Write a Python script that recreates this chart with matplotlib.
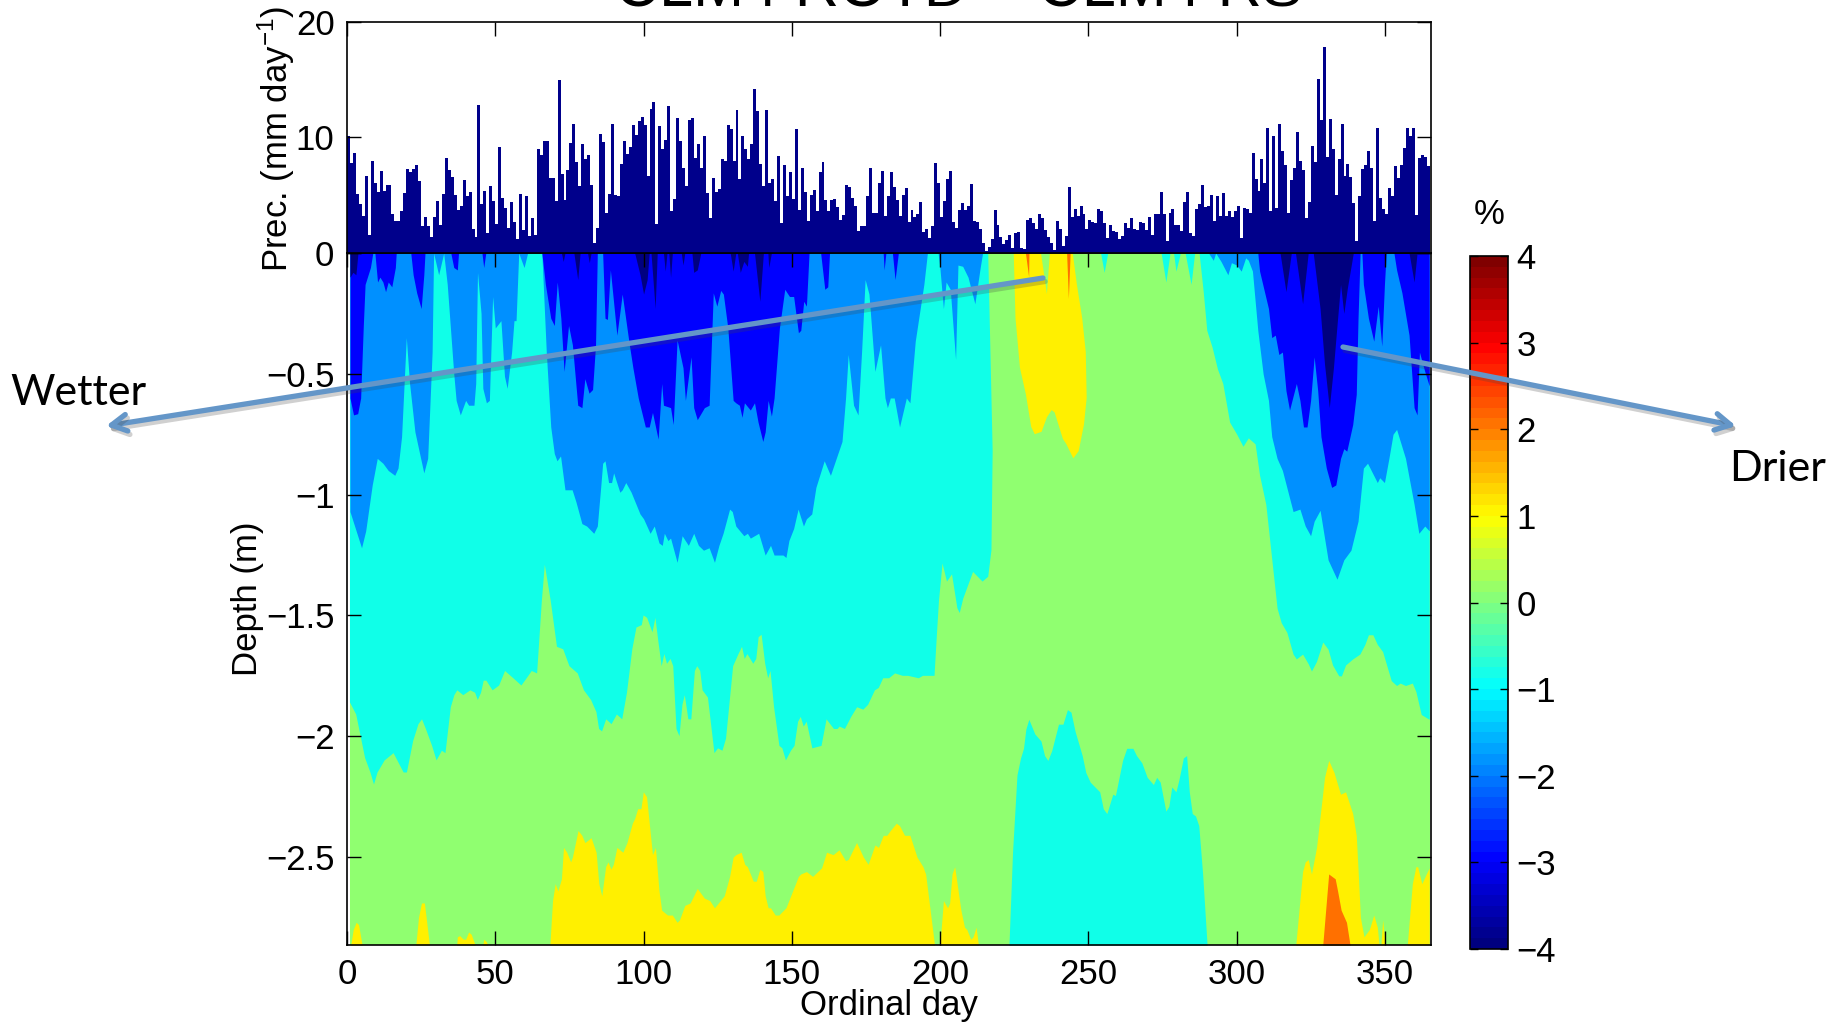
import numpy as np
import matplotlib
matplotlib.use("Agg")
import matplotlib.pyplot as plt
from matplotlib.colors import LinearSegmentedColormap, Normalize
from matplotlib.cm import ScalarMappable
from matplotlib.patches import FancyArrowPatch
import matplotlib.patheffects as pe

plt.rcParams['font.family'] = ['Liberation Sans', 'DejaVu Sans']
plt.rcParams['mathtext.fontset'] = 'custom'
plt.rcParams['mathtext.rm'] = 'Liberation Sans'
plt.rcParams['mathtext.default'] = 'regular'

precip = [
10.1,7.8,8.7,5.1,4.2,3.2,6.7,1.6,8.0,6.1,5.3,7.1,5.4,5.9,5.9,3.4,2.75,2.8,3.6,5.2,
7.3,7.0,7.3,7.65,6.2,2.3,3.1,2.3,1.4,3.1,4.5,2.4,5.1,8.2,7.2,6.6,5.0,3.7,4.1,6.3,
4.9,5.3,2.1,1.4,12.8,4.2,5.4,1.7,5.8,4.5,2.5,9.2,4.8,3.9,2.2,4.4,2.7,1.2,5.1,2.0,
4.9,1.5,3.0,1.6,9.0,8.5,9.7,9.7,6.5,6.5,4.5,15.0,6.8,4.6,7.2,9.5,11.2,7.9,5.8,9.4,
8.1,8.5,5.9,0.9,2.2,10.3,9.6,3.5,5.1,11.2,5.0,4.95,7.7,9.7,8.6,9.2,11.1,10.2,11.4,11.8,
11.1,6.7,12.5,13.1,2.5,11.0,9.0,9.8,12.7,3.6,4.7,11.7,9.7,7.4,5.8,11.5,11.7,8.2,9.4,7.4,
10.1,5.2,3.0,6.5,5.3,5.5,8.1,8.0,11.1,10.7,8.0,12.4,6.4,10.1,9.0,8.1,9.4,14.2,12.3,7.7,
5.8,12.4,6.1,6.4,4.5,8.4,2.6,7.6,4.9,7.0,4.7,10.7,3.7,7.4,5.3,2.8,5.0,5.45,3.6,7.0,
7.9,4.6,3.6,4.6,4.7,4.0,2.9,3.3,5.9,5.7,4.8,4.1,1.9,2.3,2.3,4.9,7.4,3.45,3.5,6.1,
7.1,3.2,4.9,7.0,5.7,4.6,3.2,5.0,5.6,2.7,3.7,3.1,3.4,4.4,1.8,2.05,1.3,2.3,7.8,6.1,
3.1,4.5,6.4,7.1,2.7,2.2,3.7,4.3,3.7,4.1,6.0,2.8,2.7,2.1,0.9,0.15,0.5,1.2,3.7,2.4,
1.4,0.75,1.1,1.6,0.4,1.7,1.8,0.4,0.35,2.9,3.0,2.6,2.1,3.4,3.0,2.0,1.4,0.85,0.25,2.8,
2.05,0.6,1.5,5.7,3.1,3.8,3.2,4.1,3.4,2.1,2.9,2.7,2.6,3.8,3.6,2.6,1.3,2.4,1.9,1.8,
1.2,1.5,2.6,2.2,3.0,2.1,2.0,2.7,2.6,2.0,3.1,1.6,3.4,3.4,5.3,3.4,1.0,3.5,3.8,2.4,
2.4,1.9,4.4,5.3,1.7,1.5,3.8,4.2,5.9,4.0,4.1,5.0,2.75,4.9,3.2,5.2,3.2,3.6,3.1,3.6,
4.1,1.3,3.9,3.8,3.5,8.7,6.4,5.4,8.1,6.1,10.8,3.6,10.1,3.9,11.2,8.8,7.6,3.5,6.3,7.4,
10.5,8.0,7.2,3.0,4.4,9.3,7.9,15.1,11.5,17.8,8.3,11.6,9.0,5.0,8.1,11.2,6.7,7.7,6.6,4.3,
1.0,4.9,7.3,7.6,8.8,7.4,2.8,10.8,4.8,3.8,3.4,5.6,4.9,7.5,6.5,7.6,9.1,10.8,10.1,10.8,
3.3,8.2,8.5,8.3,7.5]

max_depth = 2.864
first_day, last_day = 1, 365

# Lower edge of the -1..0 band (cyan), left part
cyan_left_days = [1,1,3.1,6.1,7.9,9.1,10.3,12.7,15.7,19.1,20.2,22.3,24.1,25.3,26.6,28.7,30.2,32,33.2,35,36.2,37.2,39.2,41.6,43.2,44.1,45.2,46.1,47,49.1,51.3,53.3,56.1,58.8,60,62.3,64.1,65.7,66.7,68.7,70.8,72.9,75,77.8,79.9,82.3,84.1,85,86,87.4,89.2,91,92.8,94.4,96.2,97.6,99.4,100,101.2,103,104,104.9,106.1,107,107.9,109.1,110,111.1,112.1,113.1,113.9,115.1,116.1,117.3,118.1,119.1,119.9,121.7,123.9,125.1,126.6,127.8,129,130.2,132,133.2,134.1,135,137,138,138.8,139.8,141,142,142.8,144,145.8,146.8,148,149.7,150.9,152.1,153,154,155,156.9,160,161.7,164.2,165.4,166.1,167.9,170,172,174.1,175.7,178,179.3,180.8,182.8,184.8,187.4,189.2,192.8,194.2,198.1,198.9,199.6,200.8,202.3,204,205.8,206.6,207.8,211.1,214.3,216.2,217.3,217.7,216.2]
cyan_left_depth = [0,1.86,1.91,2.09,2.15,2.20,2.15,2.10,2.07,2.15,2.15,2.02,1.95,1.93,1.97,2.04,2.10,2.06,2.07,1.88,1.83,1.81,1.83,1.81,1.82,1.85,1.82,1.77,1.77,1.81,1.79,1.73,1.76,1.79,1.77,1.73,1.74,1.44,1.29,1.44,1.63,1.64,1.71,1.74,1.81,1.85,1.90,1.97,1.98,1.93,1.95,1.91,1.93,1.82,1.64,1.55,1.54,1.50,1.51,1.57,1.51,1.60,1.71,1.66,1.70,1.68,1.71,1.97,2.0,1.87,1.83,1.93,1.93,1.73,1.71,1.73,1.81,1.84,2.07,2.05,2.06,2.01,1.86,1.71,1.66,1.63,1.68,1.66,1.70,1.68,1.59,1.58,1.70,1.76,1.73,1.88,2.04,2.05,2.10,2.06,2.04,1.94,1.92,1.96,1.94,2.05,2.04,1.93,1.97,1.97,1.96,1.97,1.92,1.88,1.89,1.87,1.81,1.80,1.76,1.76,1.74,1.75,1.75,1.76,1.75,1.75,1.58,1.44,1.285,1.36,1.33,1.47,1.49,1.43,1.32,1.36,1.34,1.23,0.82,0]

# Lower edge of the cyan band, right part
cyan_right_days = [254.1,255.3,256.5,274.5,276.1,277.5,278.7,279.5,281,282.6,284.6,285.8,287.3,288.7,289.9,291.7,293.5,295.3,297.6,300,302.1,303.9,306.2,307.7,309.8,313.6,315,316.9,319,320.1,322.2,324.1,325.2,326.9,329,330.8,332.3,334.4,335.3,336.7,339.1,341.5,343.2,344.4,345.9,347.4,349.2,352.1,353.9,355.1,356.9,359.2,360.4,362.2,364.9]
cyan_right_depth = [0,.08,0,0,.12,0,0,.075,0,0,.13,0,0,.16,.32,.39,.48,.54,.70,.75,.80,.765,.79,.92,1.04,1.47,1.53,1.57,1.66,1.68,1.66,1.70,1.73,1.69,1.61,1.64,1.705,1.75,1.75,1.705,1.68,1.66,1.62,1.58,1.58,1.62,1.65,1.77,1.79,1.78,1.79,1.78,1.815,1.91,1.93]

# Upper edge of the deep cyan pocket
cyan_deep_days = [223.2,224.4,225.9,227.1,228.1,228.9,229.9,231.9,234,235.2,236.3,237.6,239.9,241.4,242.9,244.1,245.5,247.9,249.1,250.6,253.8,255,256.2,258.2,259.1,261.5,262.9,265,266.2,268,269.8,271.9,273,274.2,276.1,277.1,278.1,279.5,280.5,282,283.1,284,285,286.1,287.2,288.5,290]
cyan_deep_depth = [2.864,2.48,2.16,2.09,2.05,1.97,1.93,1.99,2.02,2.08,2.10,2.06,1.95,1.95,1.89,1.90,1.98,2.08,2.15,2.19,2.23,2.30,2.32,2.24,2.245,2.10,2.05,2.05,2.08,2.11,2.17,2.20,2.17,2.19,2.31,2.29,2.21,2.23,2.18,2.09,2.08,2.23,2.32,2.33,2.37,2.57,2.864]

# Lower edge of the -2..-1 band (azure)
azure_days = [1,4.9,6.3,8.5,10.2,12.1,13.9,16.1,17.2,18.4,20,21.1,22.9,25.9,27.2,28.7,29.2,30.9,32.6,33.8,36,36.8,38.2,40,41,42.8,43.4,44,45.2,45.8,47,48,49.1,50,51.9,53.1,54,55.5,56.3,57,57.9,59.7,60.9,65.7,67.2,68.7,69.9,70.8,72,73.5,75.9,77.2,79.2,80.8,83.2,84.4,85.6,86.2,87,88.2,89.2,89.9,92,92.8,94,95.8,98.8,100,102.2,103.6,105.2,106.3,107,108.2,109.1,111.3,113,115.1,116.9,118.5,120.2,122.1,123.9,125.4,126.8,129,129.9,131.1,133.8,135,136,138.8,141,142.8,144,147,148,149,150.6,152.1,153.9,154.9,156.7,158.1,160.9,163,166.9,168.1,169,170.8,172.3,173.5,174.7,176,178,179.9,181.4,182.2,183.2,184.5,186.3,188.6,189.8,191.6,194.5,195.7,199.3,199.9,201.1,202,203.4,205.2,206,207.6,209.4,211.7,213.5,214.3,
              289.3,290.5,292.1,292.9,294.7,297,298.2,300,301.5,303,303.9,305.3,307.1,308.9,310.7,311.8,313.6,315.4,319,321.3,323.1,324.9,326.1,328.1,330.8,333.8,336.1,338.5,340.9,342.7,344.1,347.4,348.2,349.8,351.3,352.7,353.9,356.9,359.8,361.4,363.4,364.9]
azure_depth = [1.07,1.22,1.15,.96,.85,.87,.90,.92,.89,.76,.35,.54,.74,.91,.85,.41,0,.09,0,.13,.50,.61,.67,.61,.63,.63,.54,.08,.25,.56,.62,.61,.18,.31,.28,.51,.56,.41,.28,.28,0,.06,0,0,.41,.72,.83,.86,.84,.98,.98,1.03,1.12,1.13,1.16,1.13,.96,.87,.86,.95,.95,.91,.99,.98,.95,.99,1.08,1.10,1.16,1.13,1.20,1.21,1.16,1.19,1.18,1.28,1.17,1.21,1.16,1.21,1.23,1.22,1.28,1.21,1.16,1.06,1.07,1.13,1.17,1.16,1.18,1.16,1.25,1.21,1.25,1.25,1.26,1.19,1.14,1.06,1.13,1.10,1.08,.97,.86,.92,.78,.60,.42,.63,.67,.41,.11,.17,.49,.38,.60,.64,.60,.60,.72,.60,.62,.365,.13,0,0,.06,.23,.12,.15,.44,.05,.055,.10,.21,.06,0,
               0,0,.03,0,.035,.09,.04,.05,.075,.02,.03,.075,.32,.50,.61,.76,.85,.90,1.07,1.06,1.13,1.17,1.11,1.065,1.27,1.35,1.27,1.23,1.11,.89,.87,.95,.93,.95,.85,.75,.73,.85,1.04,1.16,1.13,1.15]

# Lower edge of the -3..-2 band (blue)
blue_days = [1,2.2,3.6,4.6,5.5,6.1,7.9,8.7,9.4,10.3,11.1,12.1,13,13.9,15.1,16.3,16.6,21.5,22.3,23.5,25,25.9,26.3,35,36,37.2,37.6,45.5,46.1,46.8,65.7,66.9,68.7,69.9,70.9,72.1,73.2,74.7,76,77.8,79.2,80.2,81.6,82.8,83.8,84.4,86.2,87,87.8,88.8,91,92.8,95.2,96.4,98.2,100.6,101.9,103,104.9,106.1,106.7,109.1,110,111.3,113.3,114.1,116,116.9,118.1,120.5,122.1,123.5,124.7,126,126.9,128.4,130.2,131.1,132.3,133.2,134,136,137.4,138.6,140.2,141,142,143.1,144,145.8,147.6,149.2,150.6,152.2,153,154,154.9,155.8,159.7,161.1,162.1,162.7,180.8,181.1,181.7,183.9,184.8,185.9,
             307.1,307.7,310.7,311.8,313,314.2,315.4,316.6,317.8,320.1,321.3,322.5,323.7,324.9,326.1,327.3,328.4,330.2,332,333.4,335,336.1,337.1,339.1,340.3,340.9,341.6,342.2,342.7,344.4,346.2,347.7,348.9,349.8,350.4,353,353.9,355.7,358.1,359.8,360.8,361.6,363.4,364.9]
blue_depth = [.60,.67,.665,.60,.30,.13,.06,0,0,.12,.10,.12,.16,.12,.14,.06,0,0,.09,.165,.23,.09,0,0,.06,.07,0,0,.06,0,0,.13,.27,.30,.12,.27,.49,.30,.38,.63,.64,.52,.58,.565,.38,0,0,.27,.275,.07,.34,.17,.38,.475,.60,.72,.72,.66,.77,.54,.63,.64,.71,.36,.475,.61,.43,.64,.69,.64,.63,.165,.22,.155,.17,.31,.61,.62,.63,.68,.62,.65,.62,.70,.78,.74,.61,.675,.60,.31,.15,.18,.18,.33,.32,.20,.22,0,0,.15,.14,0,0,.07,0,0,.11,0,
              0,.075,.23,.35,.34,.42,.41,.57,.65,.54,.61,.72,.72,.61,.43,.57,.76,.89,.97,.96,.85,.81,.82,.71,.585,.27,0,0,.13,.27,.365,.22,.385,.13,0,0,.07,.165,.34,.64,.67,.41,.49,.55]

# Lower edge of the -4..-3 band (navy)
navy_days = [1,2,3,3.7,72.3,72.9,73.5,76.5,77.8,78.6,81.1,81.7,82.3,97,98.8,100,101.2,101.9,102.5,103.9,104.6,106.7,107.3,107.9,108.5,109.1,109.7,112.7,113.3,113.9,116.3,116.9,118.1,119.3,129.2,130.2,131.1,131.6,132.6,133.8,135,135.4,137.4,139.2,140.4,141.9,142.2,143.1,
             314.6,316.6,318.4,319.8,322.2,324.1,325.8,328.1,329.6,331.2,332.6,333.8,335,336.1,337.3,339.3,358.1,359.8,360.8]
navy_depth = [.10,.08,.09,0,0,.035,0,0,.11,0,0,.04,0,0,.09,.17,.11,0,0,.23,0,0,.075,0,0,.10,0,0,.05,0,0,.08,.07,0,0,.075,0,0,.08,.035,.055,0,0,.20,0,0,.06,0,
              0,.16,0,0,.21,0,0,.23,.46,.64,.475,.30,.13,.25,.145,0,0,.12,0]

# Upper edge of the 1..2 band near the bottom (yellow)
yellow_days = [1.25,2.1,3.1,3.9,5.1,23.2,24.1,25.1,26.1,27.8,37,37.2,38,39.2,40,41,41.9,43.2,45.8,46.1,47,47.4,68.4,69.3,70.2,71.1,72.3,73,74.1,75.4,76,77.9,79.2,80.2,82.3,84,84.9,85.9,87.2,88,89,89.8,91,93,94.4,96.2,97,98,99.1,99.9,101,103,104,105.2,106.1,108.1,109.7,111.3,112.1,113.9,115.7,118.1,120.5,122.3,123.9,127.2,129,130.2,131.1,132.9,134.1,135,137,138,139.2,140.2,141,142,142.8,144.4,145.6,148,152.2,153,154.9,157,160,161.7,163.9,165.9,168.1,169,171.8,174.1,175.7,178,179.2,180.8,182,183.2,185.2,186.3,188,189.8,192.2,194.2,195.1,198.1,199.9,201.1,202.5,203.2,204,204.9,207,208.2,209,210.3,211.1,212.1,212.9,
               319.9,322.2,323.1,324.1,325.2,326.9,328.4,329.6,331,332.8,335,336.7,339.1,340.3,340.9,341.7,342.9,344.7,346.2,347.4,348,348.6,349.2,350.1,357.5,359.2,360.4,361,362.4,363.9,364.9]
yellow_depth = [2.864,2.80,2.77,2.78,2.864,2.864,2.75,2.69,2.69,2.864,2.864,2.83,2.825,2.84,2.84,2.81,2.82,2.864,2.864,2.84,2.85,2.864,2.864,2.68,2.61,2.64,2.59,2.46,2.48,2.52,2.50,2.39,2.41,2.44,2.42,2.48,2.61,2.66,2.54,2.52,2.55,2.53,2.46,2.48,2.44,2.36,2.34,2.30,2.30,2.23,2.25,2.49,2.46,2.64,2.72,2.74,2.74,2.77,2.76,2.70,2.69,2.63,2.67,2.68,2.71,2.66,2.58,2.50,2.49,2.48,2.53,2.54,2.60,2.60,2.55,2.56,2.66,2.71,2.71,2.74,2.74,2.71,2.58,2.57,2.56,2.58,2.545,2.48,2.49,2.47,2.515,2.51,2.44,2.50,2.53,2.45,2.46,2.41,2.41,2.39,2.36,2.37,2.41,2.41,2.50,2.54,2.57,2.864,2.864,2.68,2.71,2.69,2.57,2.54,2.72,2.79,2.80,2.84,2.83,2.79,2.864,
                2.864,2.56,2.52,2.51,2.57,2.46,2.30,2.17,2.10,2.15,2.24,2.23,2.32,2.41,2.55,2.75,2.83,2.80,2.74,2.79,2.864,2.864,2.76,2.864,2.864,2.61,2.54,2.54,2.61,2.57,2.545]

# Shallow yellow patch outline
yellow_top_days = [224.8,234,236,237,244.7,246.1,247.9,249.1,249.4,248.5,246.7,244.9,242.5,241.4,238.6,237.6,236,234.2,231.9,230.7,228.9,226.9,225.4]
yellow_top_depth = [0,0,.17,0,0,.13,.27,.41,.60,.71,.82,.85,.79,.77,.66,.65,.68,.74,.75,.72,.585,.475,.27]

# 2..3 band (orange)
orange_days = [329,331,333.2,334,335.2,337,338.2]
orange_depth = [2.864,2.57,2.59,2.64,2.72,2.77,2.864]
streak_a_days = [228.9,230,230.1]
streak_a_depth = [0,.10,0]
streak_b_days = [242.8,243.4,244]
streak_b_depth = [0,.19,0]

x_ticks = [0,50,100,150,200,250,300,350]
prec_ticks = [0,10,20]
depth_ticks = [0,-0.5,-1,-1.5,-2,-2.5]
depth_labels = ['', '\u22120.5', '\u22121', '\u22121.5', '\u22122', '\u22122.5']
cbar_ticks = [-4,-3,-2,-1,0,1,2,3,4]

NAVY, BLUE, AZURE, CYAN = '#000080', '#0000ff', '#0090ff', '#10ffe8'
GREEN, YELLOW, ORANGE, BAR = '#90ff70', '#fff000', '#ff7000', '#00008b'
ARROW = '#6496c8'

W, H = 1845, 1022
fig = plt.figure(figsize=(W/100, H/100), dpi=100, facecolor='white')
def box(l, t, r, b):
    return [l/W, 1-b/H, (r-l)/W, (b-t)/H]
FS = 25

# Depth panel
ax = fig.add_axes(box(347, 253, 1431, 945))
ax.set_xlim(0, 365.5)
ax.set_ylim(-max_depth, 0)
ax.fill_between([first_day, last_day], -max_depth, 0, color=GREEN, lw=0)
neg = lambda a: -np.array(a)
ax.fill(cyan_left_days, neg(cyan_left_depth), color=CYAN, lw=0)
ax.fill_between(cyan_right_days, 0, neg(cyan_right_depth), color=CYAN, lw=0)
ax.fill_between(cyan_deep_days, -max_depth, neg(cyan_deep_depth), color=CYAN, lw=0)
ax.fill_between(azure_days, 0, neg(azure_depth), color=AZURE, lw=0)
ax.fill_between(blue_days, 0, neg(blue_depth), color=BLUE, lw=0)
ax.fill_between(navy_days, 0, neg(navy_depth), color=NAVY, lw=0)
ax.fill_between(yellow_days, -max_depth, neg(yellow_depth), color=YELLOW, lw=0)
ax.fill(yellow_top_days, neg(yellow_top_depth), color=YELLOW, lw=0)
ax.fill_between(orange_days, -max_depth, neg(orange_depth), color=ORANGE, lw=0)
ax.fill(streak_a_days, neg(streak_a_depth), color=ORANGE, lw=0)
ax.fill(streak_b_days, neg(streak_b_depth), color=ORANGE, lw=0)
ax.set_xticks(x_ticks)
ax.set_yticks(depth_ticks)
ax.set_yticklabels(depth_labels)
ax.tick_params(direction='in', length=10, width=1, top=True, right=True, labelsize=FS, pad=9)
ax.set_axisbelow(False)

# Precipitation panel
top = fig.add_axes(box(347, 22, 1431, 253))
top.set_xlim(0, 365.5)
top.set_ylim(0, 20)
top.bar(np.arange(len(precip)) + 0.5, precip, width=1.0, color=BAR, lw=0)
top.set_xticks(x_ticks)
top.set_yticks(prec_ticks)
top.tick_params(direction='in', length=10, width=1, top=True, right=True, bottom=False, labelbottom=False, labelsize=FS, pad=9)
for a in (ax, top):
    for s in a.spines.values():
        s.set_linewidth(1.2)

# Colour bar (MATLAB jet, 64 steps)
jet64 = LinearSegmentedColormap.from_list('mjet', [
    (0, (0, 0, .5)), (.125, (0, 0, 1)), (.375, (0, 1, 1)),
    (.625, (1, 1, 0)), (.875, (1, 0, 0)), (1, (.5, 0, 0))], N=64)
cax = fig.add_axes(box(1470, 256, 1508, 949))
cb = fig.colorbar(ScalarMappable(Normalize(-4, 4), jet64), cax=cax, ticks=cbar_ticks)
cb.ax.set_yticklabels([str(t).replace('-', '\u2212') for t in cbar_ticks])
cb.ax.tick_params(direction='in', length=6, width=1, left=True, right=True, labelsize=FS, pad=6)
cb.outline.set_linewidth(1.2)
fig.text(1489/W, 1-214/H, '%', fontsize=FS, ha='center', va='center')

# Labels
fig.text(889/W, 1-1005/H, 'Ordinal day', fontsize=FS, ha='center', va='center')
fig.text(248/W, 1-599/H, 'Depth (m)', fontsize=FS, rotation=90, ha='center', va='center')
fig.text(276/W, 1-139/H, 'Prec. (mm day$^{\u22121}$)', fontsize=FS, rotation=90, ha='center', va='center')
fig.text(959/W, 1-6/H, 'CLM4 ROTD \u2212 CLM4 RS', fontsize=44, ha='center', va='baseline')

# Annotations
fig.text(10/W, 1-393/H, 'Wetter', fontsize=31, family='Lato', ha='left', va='center')
fig.text(1729/W, 1-469/H, 'Drier', fontsize=31, family='Lato', ha='left', va='center')
def arrow(p0, p1):
    a = FancyArrowPatch((p0[0]/W, 1-p0[1]/H), (p1[0]/W, 1-p1[1]/H), transform=fig.transFigure,
                        arrowstyle='->,head_length=11,head_width=6', color=ARROW, lw=3.8,
                        shrinkA=0, shrinkB=0, zorder=10,
                        path_effects=[pe.SimpleLineShadow(offset=(1.5, -2.5), alpha=0.25, shadow_color='#444444'), pe.Normal()])
    fig.add_artist(a)
arrow((1043, 278), (106, 426))
arrow((1343, 347), (1736, 426))

fig.savefig('out.png', dpi=100, facecolor='white')
